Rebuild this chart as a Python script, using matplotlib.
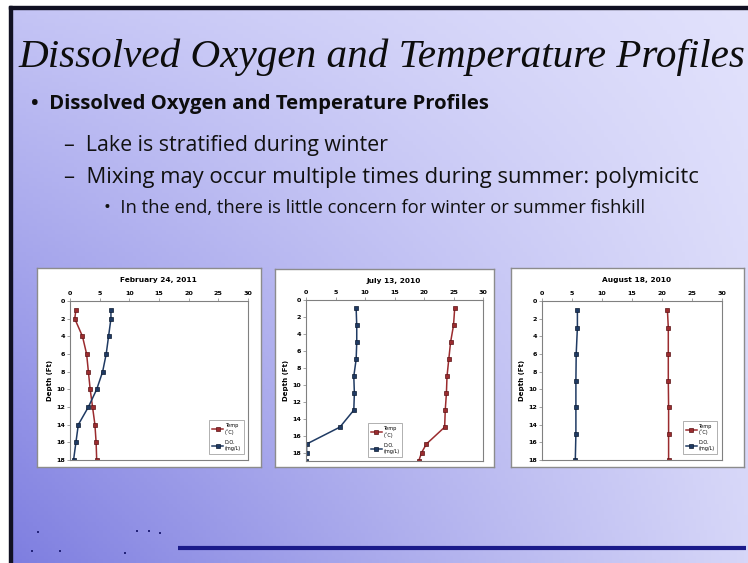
import matplotlib
matplotlib.use("Agg")
import matplotlib.pyplot as plt
from matplotlib.patches import Rectangle
from matplotlib.lines import Line2D
import numpy as np

W, H = 748, 563

# ---- profile data -------------------------------------------------------
feb_depth = [1, 2, 4, 6, 8, 10, 12, 14, 16, 18]
feb_temp = [1.0, 0.8, 2.1, 2.8, 3.1, 3.4, 3.8, 4.2, 4.4, 4.5]
feb_do = [6.9, 6.9, 6.5, 6.1, 5.5, 4.5, 3.1, 1.4, 1.0, 0.6]

jul_depth = [1, 3, 5, 7, 9, 11, 13, 15, 17, 18, 19]
jul_temp = [25.2, 25.0, 24.5, 24.2, 23.9, 23.8, 23.6, 23.5, 20.4, 19.6, 19.1]
jul_do = [8.5, 8.6, 8.6, 8.5, 8.1, 8.2, 8.1, 5.75, 0.1, 0.1, 0.0]

aug_depth = [1, 3, 6, 9, 12, 15, 18]
aug_temp = [20.9, 21.05, 21.05, 21.05, 21.1, 21.1, 21.1]
aug_do = [5.9, 5.9, 5.7, 5.65, 5.65, 5.65, 5.55]

x_ticks = [0, 5, 10, 15, 20, 25, 30]
y_ticks = [0, 2, 4, 6, 8, 10, 12, 14, 16, 18]

TEMP_COLOR = "#9b2b2e"
DO_COLOR = "#1f3a63"


def px_rect(x0, y0, x1, y1):
    """Pixel box (top-left origin) -> figure fraction rect."""
    return [x0 / W, 1 - y1 / H, (x1 - x0) / W, (y1 - y0) / H]


fig = plt.figure(figsize=(W / 100, H / 100), dpi=100)
fig.patch.set_facecolor("white")

# ---- slide background ---------------------------------------------------
bg = fig.add_axes([0, 0, 1, 1])
bg.set_xlim(0, W)
bg.set_ylim(H, 0)
bg.axis("off")
tl = np.array([196, 196, 245]) / 255
tr = np.array([226, 226, 252]) / 255
bl = np.array([126, 126, 224]) / 255
br = np.array([214, 214, 248]) / 255
u = np.linspace(0, 1, 200)[None, :, None]
v = np.linspace(0, 1, 150)[:, None, None]
grad = (1 - v) * ((1 - u) * tl + u * tr) + v * ((1 - u) * bl + u * br)
bg.imshow(grad, extent=[11, W, H, 8], aspect="auto", zorder=0)
bg.add_patch(Rectangle((0, 0), W, 6, color="white", zorder=1))
bg.add_patch(Rectangle((0, 0), 9, H, color="white", zorder=1))
bg.add_patch(Rectangle((9, 6), W - 9, 3, color="#111122", zorder=2))
bg.add_patch(Rectangle((9, 6), 3, H - 6, color="#111122", zorder=2))
bg.plot([178, 746], [548, 548], color="#1a1a8a", lw=3, solid_capstyle="butt", zorder=3)
# tiny footer marks
bg.scatter([38, 137, 149, 160, 32, 60, 125], [532, 531, 531, 533, 551, 551, 553],
           s=1.2, color="#23237a", marker="s", lw=0, zorder=3)


def fit_text(x_left, y_mid, x_right, s, **kw):
    t = fig.text(x_left / W, 1 - y_mid / H, s, ha="left", va="center", **kw)
    fig.canvas.draw()
    ext = t.get_window_extent()
    t.set_fontsize(t.get_fontsize() * (x_right - x_left) / ext.width)
    return t


fit_text(18, 57, 745, "Dissolved Oxygen and Temperature Profiles",
         family="Liberation Serif", style="italic", fontsize=30, color="#0d0d0d")
fit_text(31, 104, 487, "•  Dissolved Oxygen and Temperature Profiles",
         family="Open Sans", weight="bold", fontsize=20, color="#0d0d0d")
fit_text(64, 145, 389, "–  Lake is stratified during winter",
         family="Open Sans", fontsize=14, color="#111111")
fit_text(64, 178, 700, "–  Mixing may occur multiple times during summer: polymicitc",
         family="Open Sans", fontsize=14, color="#111111")
fit_text(104, 208, 646, "•  In the end, there is little concern for winter or summer fishkill",
         family="Open Sans", fontsize=10, color="#111111")


def profile_chart(box, plot, title, depth, temp, do, ymax, legend_box):
    frame = fig.add_axes(px_rect(*box))
    frame.set_xticks([])
    frame.set_yticks([])
    frame.set_facecolor("white")
    for sp in frame.spines.values():
        sp.set_color("#8c8c8c")
        sp.set_linewidth(1.0)

    ax = fig.add_axes(px_rect(*plot))
    ax.set_facecolor("white")
    ax.plot(temp, depth, color=TEMP_COLOR, lw=1.1, marker="s", ms=3.2,
            mfc=TEMP_COLOR, mec="#5a1416", mew=0.5, label="Temp\n(˚C)")
    ax.plot(do, depth, color=DO_COLOR, lw=1.1, marker="s", ms=3.2,
            mfc=DO_COLOR, mec="#0c1a30", mew=0.5, label="D.O.\n(mg/L)")
    ax.set_xlim(0, 30)
    ax.set_ylim(ymax, 0)
    ax.set_xticks(x_ticks)
    ax.set_yticks(y_ticks)
    ax.xaxis.tick_top()
    ax.tick_params(labelsize=4.6, length=2, width=0.5, color="#808080", pad=1.5)
    for lab in ax.get_xticklabels() + ax.get_yticklabels():
        lab.set_fontweight("bold")
    for sp in ax.spines.values():
        sp.set_color("#808080")
        sp.set_linewidth(0.8)
    ax.set_ylabel("Depth (Ft)", fontsize=5, fontweight="bold", labelpad=2)
    fig.text((box[0] + box[2]) / 2 / W + 0.012, 1 - (box[1] + 12) / H, title,
             ha="center", va="center", fontsize=5.3, fontweight="bold")

    lx0, ly0, lx1, ly1 = legend_box
    ax_pos = ax.get_position()
    bb = ((lx0 / W - ax_pos.x0) / ax_pos.width, (1 - ly1 / H - ax_pos.y0) / ax_pos.height,
          (lx1 - lx0) / W / ax_pos.width, (ly1 - ly0) / H / ax_pos.height)
    leg = ax.legend(loc="center", bbox_to_anchor=bb, fontsize=3.6, frameon=True,
                    fancybox=False, handlelength=2.2, handletextpad=0.3,
                    labelspacing=1.0, borderpad=0.6, markerscale=0.8)
    leg.get_frame().set_edgecolor("#8c8c8c")
    leg.get_frame().set_linewidth(0.6)
    return ax


profile_chart((37, 268, 261, 467), (70, 301, 248, 460), "February 24, 2011",
              feb_depth, feb_temp, feb_do, 18, (209, 419, 244, 455))
profile_chart((275, 269, 494, 467), (306, 300, 483, 461), "July 13, 2010",
              jul_depth, jul_temp, jul_do, 19, (367, 422, 403, 458))
profile_chart((511, 268, 744, 467), (542, 301, 722, 460), "August 18, 2010",
              aug_depth, aug_temp, aug_do, 18, (682, 420, 718, 455))

fig.savefig("out.png", dpi=100, facecolor="white")
